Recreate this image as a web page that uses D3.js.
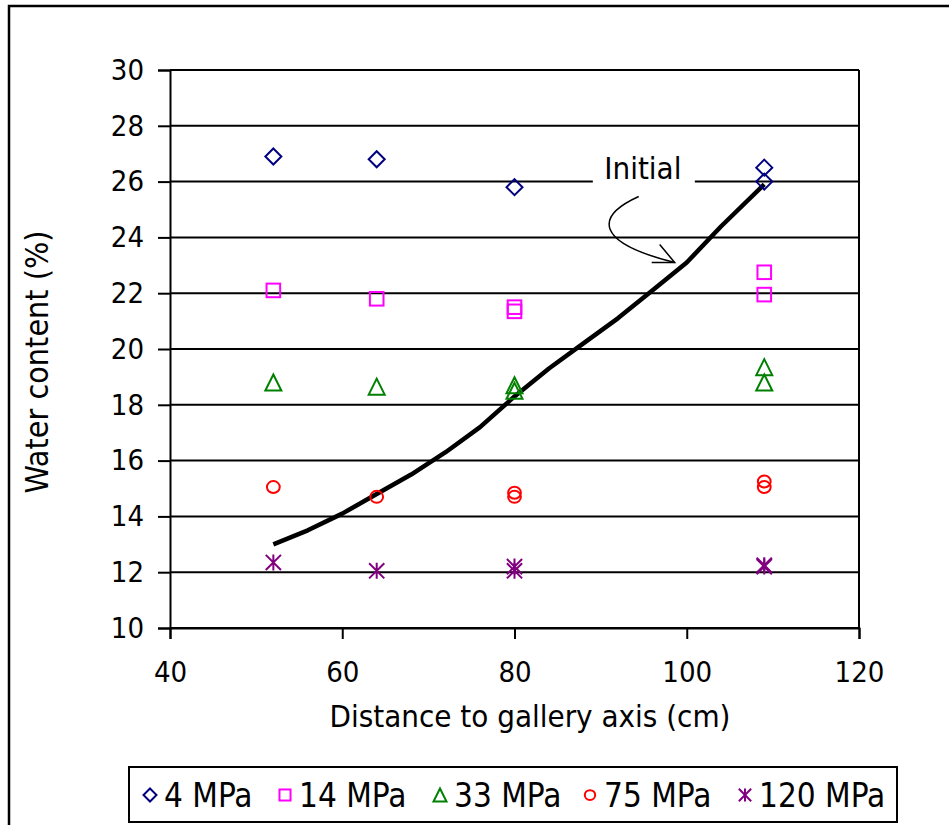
<!DOCTYPE html>
<html>
<head>
<meta charset="utf-8">
<script src="https://cdn.jsdelivr.net/npm/d3@7"></script>
<style>
  body { margin: 0; background: #fff; }
  text { font-family: "DejaVu Sans Condensed", "DejaVu Sans", sans-serif; fill: #000; }
</style>
</head>
<body>
<div id="wrap"></div>
<script>
// measured points, water content (%) vs distance (cm)
var mpa4   = [[52, 26.9], [64, 26.8], [80, 25.8], [109, 26.5], [109, 26.0]];
var mpa14  = [[52, 22.1], [64, 21.8], [80, 21.5], [80, 21.35], [109, 22.75], [109, 21.95]];
var mpa33  = [[52, 18.8], [64, 18.65], [80, 18.7], [80, 18.5], [109, 19.35], [109, 18.8]];
var mpa75  = [[52, 15.05], [64, 14.7], [80, 14.85], [80, 14.7], [109, 15.25], [109, 15.05]];
var mpa120 = [[52, 12.35], [64, 12.05], [80, 12.2], [80, 12.05], [109, 12.25], [109, 12.2]];

var initialX = [52, 56, 60, 64, 68, 72, 76, 80, 84, 88, 92, 96, 100, 104, 109];
var initialY = [13.0, 13.5, 14.1, 14.8, 15.5, 16.3, 17.2, 18.3, 19.3, 20.2, 21.1, 22.1, 23.1, 24.4, 25.9];

var xTicks = [40, 60, 80, 100, 120];
var yTicks = [10, 12, 14, 16, 18, 20, 22, 24, 26, 28, 30];

var seriesNames = ["4 MPa", "14 MPa", "33 MPa", "75 MPa", "120 MPa"];
var seriesColors = ["#000080", "#ff00ff", "#008000", "#ff0000", "#800080"];
var seriesShapes = ["diamond", "square", "triangle", "circle", "asterisk"];
var seriesData = [mpa4, mpa14, mpa33, mpa75, mpa120];

var svg = d3.select('#wrap')
  .append('svg')
  .attr("width", 949)
  .attr("height", 825);

// outer chart border (cut by the picture edge on right/bottom)
svg.append("path")
  .attr("d", "M9,830 L9,6 L960,6")
  .attr("fill", "none")
  .attr("stroke", "#000")
  .attr("stroke-width", 2.5);

var x = d3.scaleLinear().domain([40, 120]).range([170, 859]);
var y = d3.scaleLinear().domain([10, 30]).range([628, 70]);

// gridlines
svg.append("g")
  .selectAll("line")
  .data(yTicks)
  .join("line")
  .attr("x1", x(40)).attr("x2", x(120))
  .attr("y1", d => y(d)).attr("y2", d => y(d))
  .attr("stroke", "#000")
  .attr("stroke-width", 2);

// axes
var yAxis = svg.append("g")
  .attr("transform", "translate(" + x(40) + ",0)")
  .call(d3.axisLeft(y).tickValues(yTicks).tickSize(12).tickPadding(14));
var xAxis = svg.append("g")
  .attr("transform", "translate(0," + y(10) + ")")
  .call(d3.axisBottom(x).tickValues(xTicks).tickSize(11).tickPadding(22));
[xAxis, yAxis].forEach(function (g) {
  g.select(".domain").attr("stroke", "#000").attr("stroke-width", 2);
  g.selectAll(".tick line").attr("stroke", "#000").attr("stroke-width", 2);
  g.selectAll(".tick text").style("font-size", "29px").attr("fill", "#000");
});
// right border of plot area
svg.append("line")
  .attr("x1", x(120)).attr("x2", x(120))
  .attr("y1", y(30)).attr("y2", y(10))
  .attr("stroke", "#000").attr("stroke-width", 2);

// axis titles
svg.append("text")
  .attr("x", 530).attr("y", 727)
  .attr("text-anchor", "middle")
  .style("font-size", "31px")
  .text("Distance to gallery axis (cm)");
svg.append("text")
  .attr("transform", "translate(48,362) rotate(-90)")
  .attr("text-anchor", "middle")
  .style("font-size", "32px")
  .text("Water content (%)");

// initial profile
var initialPts = initialX.map((d, i) => [d, initialY[i]]);
svg.append("path")
  .datum(initialPts)
  .attr("d", d3.line().x(d => x(d[0])).y(d => y(d[1])))
  .attr("fill", "none")
  .attr("stroke", "#000")
  .attr("stroke-width", 4.5)
  .attr("stroke-linejoin", "round");

// marker shapes
function drawMarker(g, shape, color, s) {
  var h = s / 2;
  if (shape == "diamond") {
    g.append("path").attr("d", "M0," + (-h) + "L" + h + ",0L0," + h + "L" + (-h) + ",0Z")
      .attr("fill", "none").attr("stroke", color).attr("stroke-width", 2);
  } else if (shape == "square") {
    g.append("rect").attr("x", -h * 0.85).attr("y", -h * 0.85).attr("width", s * 0.85).attr("height", s * 0.85)
      .attr("fill", "none").attr("stroke", color).attr("stroke-width", 2);
  } else if (shape == "triangle") {
    g.append("path").attr("d", "M0," + (-h) + "L" + h + "," + h + "L" + (-h) + "," + h + "Z")
      .attr("fill", "none").attr("stroke", color).attr("stroke-width", 2);
  } else if (shape == "circle") {
    g.append("ellipse").attr("rx", h * 0.8).attr("ry", h * 0.75)
      .attr("fill", "none").attr("stroke", color).attr("stroke-width", 2);
  } else {
    var a = h * 0.95;
    g.append("path")
      .attr("d", "M" + (-a) + "," + (-a) + "L" + a + "," + a + "M" + (-a) + "," + a + "L" + a + "," + (-a) + "M0," + (-h) + "L0," + h)
      .attr("fill", "none").attr("stroke", color).attr("stroke-width", 2);
  }
}

seriesData.forEach(function (pts, k) {
  svg.append("g").selectAll("g")
    .data(pts)
    .join("g")
    .attr("transform", d => "translate(" + x(d[0]) + "," + y(d[1]) + ")")
    .each(function () { drawMarker(d3.select(this), seriesShapes[k], seriesColors[k], 16); });
});

// "Initial" label with curved arrow
var lx = x(94.9), ly = y(26);
svg.append("rect")
  .attr("x", lx - 50).attr("y", ly - 6).attr("width", 102).attr("height", 12)
  .attr("fill", "#fff");
svg.append("text")
  .attr("x", lx).attr("y", ly - 3)
  .attr("text-anchor", "middle")
  .style("font-size", "31px")
  .text("Initial");
var tipX = x(98.6), tipY = y(23.1);
svg.append("path")
  .attr("d", "M" + (tipX - 36) + "," + (tipY - 66) + " C" + (tipX - 80) + "," + (tipY - 46) + " " + (tipX - 80) + "," + (tipY - 20) + " " + tipX + "," + tipY)
  .attr("fill", "none").attr("stroke", "#000").attr("stroke-width", 1.5);
svg.append("path")
  .attr("d", "M" + (tipX - 15) + "," + (tipY - 18) + " L" + tipX + "," + tipY + " L" + (tipX - 23) + "," + tipY)
  .attr("fill", "none").attr("stroke", "#000").attr("stroke-width", 1.5);

// legend
var legend = svg.append("g");
legend.append("rect")
  .attr("x", 129).attr("y", 767).attr("width", 768).attr("height", 55)
  .attr("fill", "#fff").attr("stroke", "#000").attr("stroke-width", 2);
var legendX = [150, 285, 440, 590, 745];
seriesNames.forEach(function (name, k) {
  var g = legend.append("g").attr("transform", "translate(" + legendX[k] + ",795)");
  drawMarker(g, seriesShapes[k], seriesColors[k], 13);
  g.append("text")
    .attr("x", 14).attr("y", 12)
    .style("font-size", "33px")
    .text(name);
});
</script>
</body>
</html>
